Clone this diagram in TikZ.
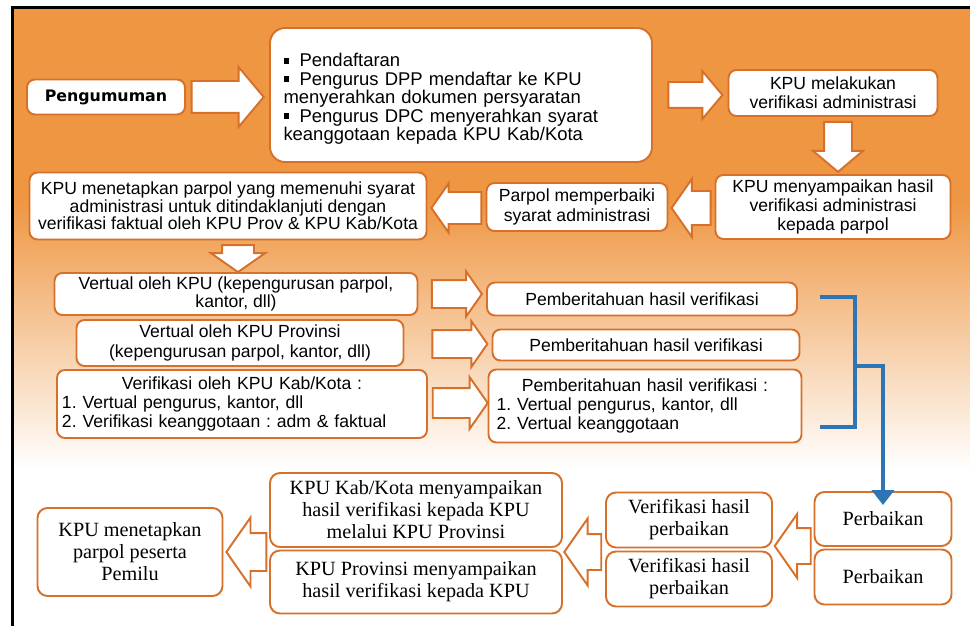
\documentclass[tikz,border=0pt]{standalone}
\usepackage{fontspec}
\setmainfont{Liberation Sans}
\newfontfamily\bookfont{Liberation Serif}
\newfontfamily\headfont{DejaVu Sans}
\usetikzlibrary{shapes.arrows,arrows.meta,calc}
\frenchspacing

\definecolor{bgorange}{RGB}{238,150,66}
\definecolor{boxline}{RGB}{214,112,42}
\definecolor{linkblue}{RGB}{46,117,182}

\newcommand{\sqb}{\raisebox{1.8pt}{\rule{3.2pt}{3.2pt}}\hspace{6pt}}

\begin{document}
\begin{tikzpicture}[x=0.2mm, y=-0.2mm,
    box/.style={rectangle, rounded corners=1.6mm, draw=boxline, fill=white, line width=1.1pt, align=center, inner sep=2pt, font=\fontsize{10}{11}\selectfont},
    serifbox/.style={box, rounded corners=2mm, font=\bookfont\fontsize{11.5}{12.5}\selectfont},
    blockarrow/.style={single arrow, draw=boxline, fill=white, line width=1.1pt, inner xsep=0pt, single arrow tip angle=110},
    bracket/.style={draw=linkblue, line width=2.2pt}]
    \useasboundingbox (0,0) rectangle (970,626);
    \fill[white] (0,0) rectangle (970,626);
    \fill[bgorange] (13,9) rectangle (970,200);
    \shade[top color=bgorange, bottom color=white] (13,199) rectangle (970,470);
    \draw[line width=0.6mm] (12,626) |- (970,7.5);

    \node at (106,97) [box, minimum width=31.6mm, minimum height=7mm, font=\headfont\bfseries\fontsize{9}{10}\selectfont] (Pengumuman) {Pengumuman};
    \node at (461,95) [box, rounded corners=3mm, minimum width=76.4mm, minimum height=26.8mm, inner xsep=2.6mm, text width=71mm, align=left, font=\fontsize{10.5}{10.5}\selectfont] (Pendaftaran) {\sqb\rule{0pt}{12pt}Pendaftaran\\ \sqb Pengurus DPP mendaftar ke KPU\\ menyerahkan dokumen persyaratan\\ \sqb Pengurus DPC menyerahkan syarat\\ keanggotaan kepada KPU Kab/Kota};
    \node at (833,93) [box, minimum width=41.8mm, minimum height=9.2mm] (VerAdmin) {KPU melakukan\\verifikasi administrasi};
    \node at (833,207) [box, minimum width=47mm, minimum height=12.8mm] (HasilAdmin) {KPU menyampaikan hasil\\verifikasi administrasi\\kepada parpol};
    \node at (577,207) [box, minimum width=36.2mm, minimum height=9.6mm] (Perbaiki) {Parpol memperbaiki\\syarat administrasi};
    \node at (228,206) [box, minimum width=79.4mm, minimum height=13.4mm, font=\fontsize{10}{10}\selectfont] (Tetapkan) {KPU menetapkan parpol yang memenuhi syarat\\administrasi untuk ditindaklanjuti dengan\\verifikasi faktual oleh KPU Prov \& KPU Kab/Kota};

    \node at (236,294) [box, minimum width=72.6mm, minimum height=8.4mm, font=\fontsize{10}{10}\selectfont] (VertualKPU) {Vertual oleh KPU (kepengurusan parpol,\\kantor, dll)};
    \node at (240,343) [box, minimum width=65.4mm, minimum height=9.2mm] (VertualProv) {Vertual oleh KPU Provinsi\\(kepengurusan parpol, kantor, dll)};
    \node at (242,404) [box, minimum width=74mm, minimum height=13.6mm, inner xsep=1mm, text width=72mm, align=left] (VerKab) {\centering Verifikasi oleh KPU Kab/Kota :\par\raggedright 1. Vertual pengurus, kantor, dll\\ 2. Verifikasi keanggotaan : adm \& faktual};
    \node at (642,299) [box, minimum width=62mm, minimum height=6.6mm] (InfoKPU) {Pemberitahuan hasil verifikasi};
    \node at (646,345) [box, minimum width=61.4mm, minimum height=6.2mm] (InfoProv) {Pemberitahuan hasil verifikasi};
    \node at (645,406) [box, minimum width=62.6mm, minimum height=14.6mm, inner xsep=1.6mm, text width=59.4mm, align=left] (InfoKab) {\centering Pemberitahuan hasil verifikasi :\par\raggedright 1. Vertual pengurus, kantor, dll\\ 2. Vertual keanggotaan};

    \node at (416,510) [serifbox, minimum width=58.4mm, minimum height=14.8mm] (KabSampai) {KPU Kab/Kota menyampaikan\\hasil verifikasi kepada KPU\\melalui KPU Provinsi};
    \node at (416,582) [serifbox, minimum width=58.4mm, minimum height=12.6mm] (ProvSampai) {KPU Provinsi menyampaikan\\hasil verifikasi kepada KPU};
    \node at (130,552) [serifbox, minimum width=37mm, minimum height=17.6mm] (Peserta) {KPU menetapkan\\parpol peserta\\Pemilu};
    \node at (689,520) [serifbox, minimum width=33.2mm, minimum height=11mm] (VerHasilA) {Verifikasi hasil\\perbaikan};
    \node at (689,579) [serifbox, minimum width=33.2mm, minimum height=11mm] (VerHasilB) {Verifikasi hasil\\perbaikan};
    \node at (883,519) [serifbox, minimum width=27.4mm, minimum height=10.8mm] (PerbaikanA) {Perbaikan};
    \node at (883,577) [serifbox, minimum width=27.4mm, minimum height=11mm] (PerbaikanB) {Perbaikan};

    \node at (221,97) [blockarrow, single arrow tip angle=100, minimum height=14.4mm, inner ysep=3mm, single arrow head extend=2.8mm] (ArrDaftar) {};
    \node at (690,95) [blockarrow, single arrow tip angle=100, minimum height=10.8mm, inner ysep=2.4mm, single arrow head extend=2.2mm] (ArrVer) {};
    \node at (838,141) [blockarrow, rotate=-90, single arrow tip angle=100, minimum height=10mm, inner ysep=2.6mm, single arrow head extend=2.2mm] (ArrHasil) {};
    \node at (697,208) [blockarrow, rotate=180, minimum height=7.8mm, inner ysep=3.2mm, single arrow head extend=2.4mm] (ArrPerbaiki) {};
    \node at (462,208) [blockarrow, rotate=180, minimum height=10mm, inner ysep=3mm, single arrow head extend=1.7mm] (ArrTetapkan) {};
    \node at (238,253) [blockarrow, rotate=-90, minimum height=5.4mm, inner ysep=3mm, single arrow head extend=2.2mm] (ArrVertual) {};
    \node at (452,294) [blockarrow, minimum height=10mm, inner ysep=2.6mm, single arrow head extend=1.7mm] (ArrInfoKPU) {};
    \node at (455,344) [blockarrow, minimum height=11mm, inner ysep=2.6mm, single arrow head extend=1.8mm] (ArrInfoProv) {};
    \node at (455,403) [blockarrow, minimum height=11mm, inner ysep=2.8mm, single arrow head extend=2.2mm] (ArrInfoKab) {};
    \node at (799,546) [blockarrow, rotate=180, minimum height=7.2mm, inner ysep=3.4mm, single arrow head extend=2.8mm] (ArrVerHasil) {};
    \node at (589,552) [blockarrow, rotate=180, minimum height=7.4mm, inner ysep=3.4mm, single arrow head extend=3.1mm] (ArrSampai) {};
    \node at (253,552) [blockarrow, rotate=180, minimum height=8mm, inner ysep=3.6mm, single arrow head extend=3.1mm] (ArrPeserta) {};

    \coordinate (BrTop) at (820,297);
    \coordinate (BrBot) at (820,427);
    \coordinate (BrJoin) at (855,366);
    \draw[bracket] (BrTop) -| (BrJoin) |- (BrBot);
    \draw[bracket, -{Triangle[width=4.4mm, length=3mm]}] (BrJoin) -| ($(PerbaikanA.north)+(0,14)$);
\end{tikzpicture}
\end{document}
